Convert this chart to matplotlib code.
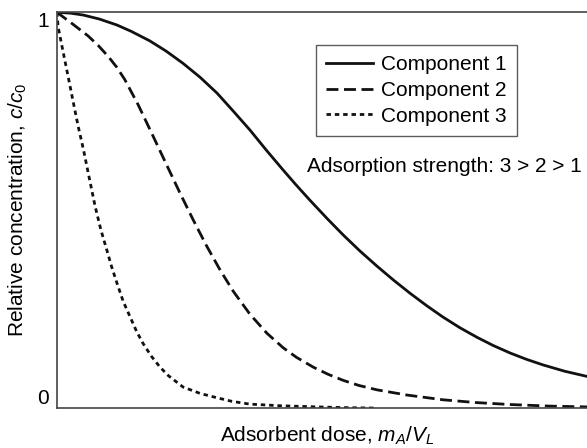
import matplotlib
matplotlib.use("Agg")
import matplotlib.pyplot as plt

# Relativ konsentrasjon c/c0 mot adsorbentdose for tre komponenter
dose_1 = [0.0, 0.025, 0.05, 0.08, 0.113, 0.14, 0.175, 0.206, 0.238, 0.27,
          0.302, 0.333, 0.364, 0.395, 0.426, 0.45, 0.477, 0.51, 0.540, 0.572,
          0.604, 0.635, 0.666, 0.697, 0.728, 0.76, 0.792, 0.823, 0.855, 0.886,
          0.917, 0.958, 1.0]
conc_1 = [1.0, 0.998, 0.993, 0.983, 0.968, 0.952, 0.928, 0.902, 0.871, 0.836,
          0.796, 0.750, 0.703, 0.652, 0.603, 0.566, 0.526, 0.479, 0.438, 0.397,
          0.359, 0.324, 0.291, 0.260, 0.231, 0.204, 0.180, 0.159, 0.140, 0.124,
          0.110, 0.094, 0.081]

dose_2 = [0.0, 0.009, 0.03, 0.059, 0.078, 0.097, 0.113, 0.128, 0.153, 0.179,
          0.210, 0.232, 0.257, 0.282, 0.308, 0.333, 0.364, 0.396, 0.427, 0.452,
          0.484, 0.512, 0.540, 0.57, 0.604, 0.66, 0.728, 0.79, 0.855, 0.93, 1.0]
conc_2 = [1.0, 0.991, 0.970, 0.940, 0.916, 0.888, 0.861, 0.830, 0.767, 0.694,
          0.606, 0.544, 0.476, 0.411, 0.349, 0.295, 0.238, 0.190, 0.153, 0.129,
          0.104, 0.086, 0.071, 0.058, 0.047, 0.034, 0.022, 0.015, 0.010, 0.006,
          0.004]

dose_3 = [0.0, 0.002, 0.012, 0.021, 0.031, 0.040, 0.050, 0.059, 0.072, 0.083,
          0.094, 0.103, 0.113, 0.125, 0.138, 0.150, 0.162, 0.178, 0.194, 0.210,
          0.238, 0.270, 0.302, 0.330, 0.364, 0.420, 0.491, 0.550, 0.604]
conc_3 = [1.0, 0.964, 0.897, 0.838, 0.771, 0.712, 0.653, 0.594, 0.510, 0.450,
          0.400, 0.358, 0.317, 0.270, 0.231, 0.195, 0.165, 0.132, 0.105, 0.083,
          0.054, 0.038, 0.027, 0.018, 0.011, 0.007, 0.004, 0.002, 0.001]

labels = ["Component 1", "Component 2", "Component 3"]

plt.rcParams["font.family"] = ["Liberation Sans", "DejaVu Sans"]
plt.rcParams["mathtext.fontset"] = "custom"
plt.rcParams["mathtext.rm"] = "Liberation Sans"
plt.rcParams["mathtext.it"] = "Liberation Sans:italic"

fig = plt.figure(figsize=(5.87, 4.48), dpi=100)
ax = fig.add_axes([0.0971, 0.0882, 0.9029, 0.8843])

ax.plot(dose_1, conc_1, color="#111111", lw=2.0, label=labels[0])
ax.plot(dose_2, conc_2, color="#111111", lw=2.0, linestyle=(0, (4.3, 2.0)), label=labels[1])
ax.plot(dose_3, conc_3, color="#111111", lw=2.0, linestyle=(0, (1.6, 1.4)), label=labels[2])

ax.set_xlim(0, 1)
ax.set_ylim(0, 1)
ax.set_xticks([])
ax.set_yticks([0, 1])
ax.set_yticklabels(["0", "1"], fontsize=15)
ax.tick_params(axis="y", length=0, pad=6)
lbls = ax.get_yticklabels()
lbls[0].set_verticalalignment("bottom")
lbls[1].set_verticalalignment("top")

for side in ["left", "top", "bottom"]:
    ax.spines[side].set_color("#444444")
    ax.spines[side].set_linewidth(1.2)
ax.spines["right"].set_visible(False)

leg = ax.legend(loc="upper left", bbox_to_anchor=(315.7 / 587, 1 - 45 / 448),
                bbox_transform=fig.transFigure, borderaxespad=0,
                fontsize=15, frameon=True, fancybox=False, handlelength=2.25,
                handletextpad=0.4, borderpad=0.5, labelspacing=0.32)
leg.get_frame().set_edgecolor("#333333")
leg.get_frame().set_linewidth(1.0)

ax.text(0.472, 0.61, "Adsorption strength: 3 > 2 > 1", transform=ax.transAxes,
        fontsize=15, va="center", ha="left")

fig.text(327 / 587, 1 - 442 / 448, r"Adsorbent dose, $m_A/V_L$",
         fontsize=15, ha="center", va="baseline")
fig.text(18 / 587, 1 - 210 / 448, r"Relative concentration, $c/c_0$",
         fontsize=15, ha="center", va="center", rotation=90)

fig.savefig("out.png", dpi=100)
